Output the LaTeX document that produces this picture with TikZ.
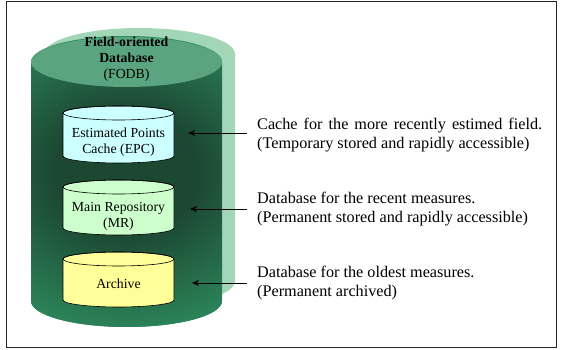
\documentclass[tikz,border=0pt]{standalone}
\usepackage{fontspec}
\setmainfont{Liberation Serif}
\usetikzlibrary{arrows.meta}

\definecolor{dbbase}{RGB}{46,139,94}
\definecolor{dbdark}{RGB}{28,72,50}
\definecolor{dbtop}{RGB}{90,165,128}
\definecolor{dbshadow}{RGB}{163,213,183}
\definecolor{epcfill}{RGB}{204,255,255}
\definecolor{mrfill}{RGB}{204,255,204}
\definecolor{arcfill}{RGB}{255,255,153}

% soft dark glow behind the stores inside the big cylinder
\pgfdeclareradialshading{dbglow}{\pgfpoint{0bp}{0bp}}{color(0bp)=(dbdark); color(9bp)=(dbdark); color(25bp)=(dbbase); color(50bp)=(dbbase)}

\tikzset{
  store/.style={draw=black, line width=0.6pt},
  storetext/.style={align=center, inner sep=0pt, font=\fontsize{13.8}{16}\selectfont},
  desc/.style={align=left, inner sep=0pt, anchor=west, font=\fontsize{16.2}{19}\selectfont},
  arr/.style={draw=black, line width=0.8pt, -{Stealth[length=7pt,width=6pt]}, shorten <=10pt},
}

\begin{document}
\begin{tikzpicture}[x=1pt,y=1pt]
\useasboundingbox (0,0) rectangle (563,-350);

% frame
\draw[line width=0.9pt, black!85] (6.5,-1.5) rectangle (556,-347.5);

% light backdrop of the database cylinder
\fill[dbshadow] (44,-54) -- (44,-281)
  arc[start angle=180, end angle=360, x radius=95.5, y radius=26]
  -- (235,-54)
  arc[start angle=0, end angle=180, x radius=95.5, y radius=26] -- cycle;

% database cylinder body
\fill[dbbase] (31,-62) -- (31,-301)
  arc[start angle=180, end angle=360, x radius=95.5, y radius=26]
  -- (222,-62)
  arc[start angle=0, end angle=180, x radius=95.5, y radius=26] -- cycle;
\begin{scope}
  \clip (31,-62) -- (31,-301)
    arc[start angle=180, end angle=360, x radius=95.5, y radius=26]
    -- (222,-62) -- cycle;
  \shade[shading=dbglow] (126.5,-172) ellipse [x radius=200, y radius=170];
\end{scope}
% database cylinder top
\fill[dbtop] (126.5,-62) ellipse [x radius=95.5, y radius=25];

\node[storetext] (fodb) at (126.5,-59)
  {\textbf{Field-oriented}\\\textbf{Database}\\(FODB)};

% Estimated Points Cache
\filldraw[store, fill=epcfill] (63,-113) -- (63,-156)
  arc[start angle=180, end angle=360, x radius=55.5, y radius=7]
  -- (174,-113)
  arc[start angle=0, end angle=180, x radius=55.5, y radius=7] -- cycle;
\draw[store] (118.5,-113) ellipse [x radius=55.5, y radius=7];
\node[storetext] (epc) at (118.5,-142) {Estimated Points\\Cache (EPC)};

% Main Repository
\filldraw[store, fill=mrfill] (63,-187) -- (63,-228)
  arc[start angle=180, end angle=360, x radius=55.5, y radius=7]
  -- (174,-187)
  arc[start angle=0, end angle=180, x radius=55.5, y radius=7] -- cycle;
\draw[store] (118.5,-187) ellipse [x radius=55.5, y radius=7];
\node[storetext] (mr) at (118.5,-216) {Main Repository\\(MR)};

% Archive
\filldraw[store, fill=arcfill] (63,-259) -- (63,-300)
  arc[start angle=180, end angle=360, x radius=55.5, y radius=7]
  -- (174,-259)
  arc[start angle=0, end angle=180, x radius=55.5, y radius=7] -- cycle;
\draw[store] (118.5,-259) ellipse [x radius=55.5, y radius=7];
\node[storetext] (arch) at (118.5,-284) {Archive};

% descriptions
\node[desc] (d1) at (257,-135.5)
  {\makebox[285pt][s]{Cache for the more recently estimed field.}\\(Temporary stored and rapidly accessible)};
\node[desc] (d2) at (257,-209.5)
  {Database for the recent measures.\\(Permanent stored and rapidly accessible)};
\node[desc] (d3) at (257,-283.5)
  {Database for the oldest measures.\\(Permanent archived)};

% arrow tips next to each store
\coordinate (t1) at (188,-133);
\coordinate (t2) at (190,-209);
\coordinate (t3) at (192,-283);

\draw[arr] (d1.west |- t1) -- (t1);
\draw[arr] (d2.west |- t2) -- (t2);
\draw[arr] (d3.west |- t3) -- (t3);
\end{tikzpicture}
\end{document}
